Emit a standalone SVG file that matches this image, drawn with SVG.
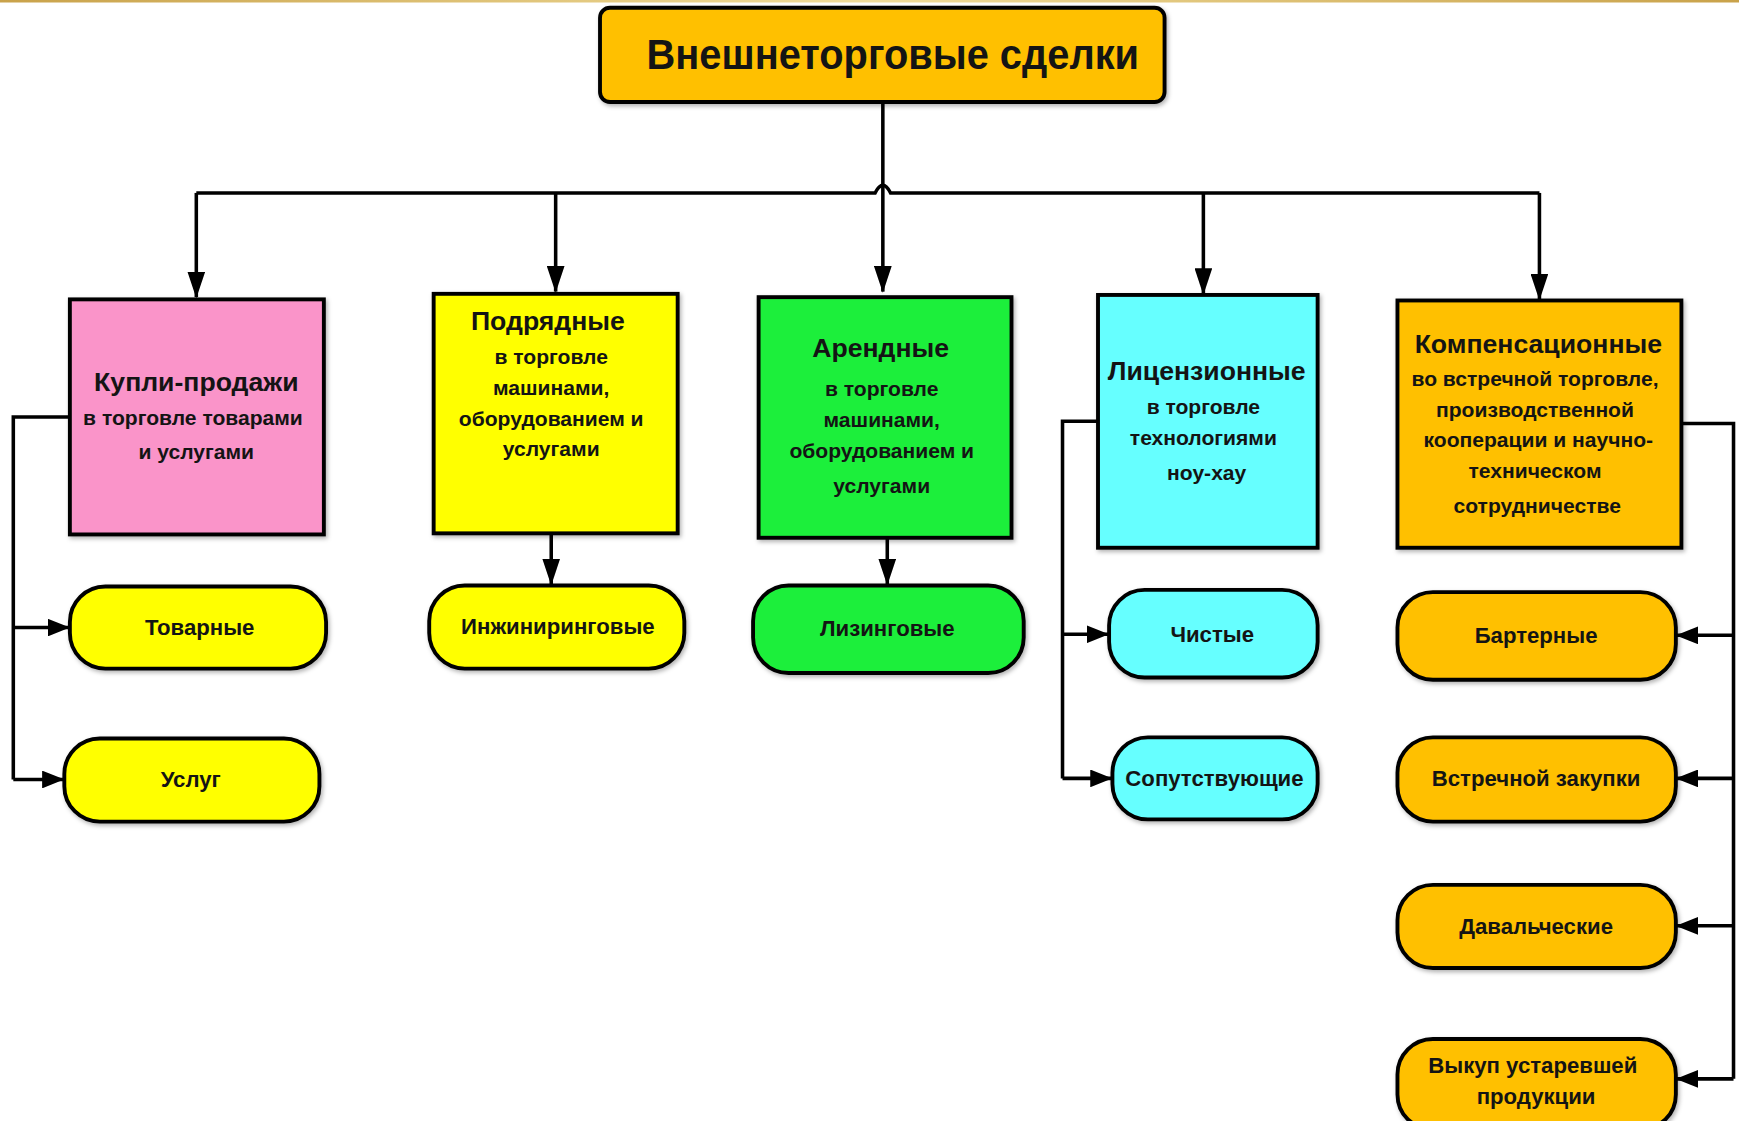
<svg xmlns="http://www.w3.org/2000/svg" width="1739" height="1121" viewBox="0 0 1739 1121">
<defs>
<style>
.box{stroke:#000;stroke-width:3.5;filter:url(#sh)}
.t{font-family:"Liberation Sans",Arial,sans-serif;font-weight:bold;fill:#141414;text-anchor:middle}
.h{font-size:24px}
.s{font-size:19px}
.p{font-size:20px}
.c{fill:none;stroke:#000;stroke-width:3.2}
.pink{fill:#FA94C9}.yel{fill:#FFFF00}.grn{fill:#1FEF3A}.cyn{fill:#66FFFF}.org{fill:#FFC000}
</style>
<filter id="sh" x="-10%" y="-10%" width="130%" height="130%">
<feDropShadow dx="1.5" dy="2" stdDeviation="1.8" flood-color="#000" flood-opacity="0.3"/>
</filter>
<marker id="ar" markerUnits="userSpaceOnUse" markerWidth="24" markerHeight="16" refX="23" refY="8" orient="auto">
<path d="M0,0 L24,8 L0,16 z" fill="#000"/>
</marker>
<marker id="as" markerUnits="userSpaceOnUse" markerWidth="20" markerHeight="16" refX="19" refY="8" orient="auto">
<path d="M0,0 L20,8 L0,16 z" fill="#000"/>
</marker>
<linearGradient id="gl" x1="0" x2="1" y1="0" y2="0">
<stop offset="0" stop-color="#C9A24A"/><stop offset="0.5" stop-color="#F0DC9A"/><stop offset="1" stop-color="#C9A24A"/>
</linearGradient>
</defs>
<rect x="0" y="0" width="1739" height="1121" fill="#fff"/>
<rect x="0" y="0" width="1739" height="2.5" fill="url(#gl)"/>
<g transform="scale(1.1091,1.1088)">
<g id="connectors">
<path class="c" d="M796,92 V263" marker-end="url(#ar)"/>
<path class="c" d="M177,174 H789 Q796,160 803,174 H1388"/>
<path class="c" d="M177,174 V268" marker-end="url(#ar)"/>
<path class="c" d="M501,174 V263" marker-end="url(#ar)"/>
<path class="c" d="M1085,174 V265" marker-end="url(#ar)"/>
<path class="c" d="M1388,174 V270" marker-end="url(#ar)"/>
<path class="c" d="M63,376 H12 V703"/>
<path class="c" d="M12,566 H62" marker-end="url(#as)"/>
<path class="c" d="M12,703 H57" marker-end="url(#as)"/>
<path class="c" d="M497,481 V527" marker-end="url(#ar)"/>
<path class="c" d="M800,485 V527" marker-end="url(#ar)"/>
<path class="c" d="M990,380 H958 V702"/>
<path class="c" d="M958,572 H999" marker-end="url(#as)"/>
<path class="c" d="M958,702 H1002" marker-end="url(#as)"/>
<path class="c" d="M1516,382 H1563 V973"/>
<path class="c" d="M1563,573 H1512" marker-end="url(#as)"/>
<path class="c" d="M1563,702 H1512" marker-end="url(#as)"/>
<path class="c" d="M1563,835 H1512" marker-end="url(#as)"/>
<path class="c" d="M1563,973 H1512" marker-end="url(#as)"/>
</g>
<g id="root">
<rect class="box org" x="541" y="7" width="509" height="85" rx="9"/>
<text class="t" x="805" y="62" font-size="38" textLength="444" lengthAdjust="spacingAndGlyphs">Внешнеторговые сделки</text>
</g>
<g id="n-kupli">
<rect class="box pink" x="63" y="270" width="229" height="212"/>
<text class="t h" x="177" y="353">Купли-продажи</text>
<text class="t s" x="174" y="383">в торговле товарами</text>
<text class="t s" x="177" y="414">и услугами</text>
</g>
<g id="n-podr">
<rect class="box yel" x="391" y="265" width="220" height="216"/>
<text class="t h" x="494" y="298">Подрядные</text>
<text class="t s" x="497" y="328">в торговле</text>
<text class="t s" x="497" y="356">машинами,</text>
<text class="t s" x="497" y="384">оборудованием и</text>
<text class="t s" x="497" y="411">услугами</text>
</g>
<g id="n-arend">
<rect class="box grn" x="684" y="268" width="228" height="217"/>
<text class="t h" x="794" y="322">Арендные</text>
<text class="t s" x="795" y="357">в торговле</text>
<text class="t s" x="795" y="385">машинами,</text>
<text class="t s" x="795" y="413">оборудованием и</text>
<text class="t s" x="795" y="445">услугами</text>
</g>
<g id="n-lic">
<rect class="box cyn" x="990" y="266" width="198" height="228"/>
<text class="t h" x="1088" y="343">Лицензионные</text>
<text class="t s" x="1085" y="373">в торговле</text>
<text class="t s" x="1085" y="401">технологиями</text>
<text class="t s" x="1088" y="433">ноу-хау</text>
</g>
<g id="n-komp">
<rect class="box org" x="1260" y="271" width="256" height="223"/>
<text class="t h" x="1387" y="318">Компенсационные</text>
<text class="t s" x="1384" y="348">во встречной торговле,</text>
<text class="t s" x="1384" y="376">производственной</text>
<text class="t s" x="1387" y="403">кооперации и научно-</text>
<text class="t s" x="1384" y="431">техническом</text>
<text class="t s" x="1386" y="463">сотрудничестве</text>
</g>
<g id="n-tovar">
<rect class="box yel" x="63" y="529" width="231" height="74" rx="32"/>
<text class="t p" x="180" y="573">Товарные</text>
</g>
<g id="n-uslug">
<rect class="box yel" x="58" y="666" width="230" height="75" rx="32"/>
<text class="t p" x="172" y="710">Услуг</text>
</g>
<g id="n-inzh">
<rect class="box yel" x="387" y="528" width="230" height="75" rx="32"/>
<text class="t p" x="503" y="572">Инжиниринговые</text>
</g>
<g id="n-lizing">
<rect class="box grn" x="679" y="528" width="244" height="79" rx="32"/>
<text class="t p" x="800" y="574">Лизинговые</text>
</g>
<g id="n-chist">
<rect class="box cyn" x="1000" y="532" width="188" height="79" rx="32"/>
<text class="t p" x="1093" y="579">Чистые</text>
</g>
<g id="n-soput">
<rect class="box cyn" x="1003" y="665" width="185" height="74" rx="32"/>
<text class="t p" x="1095" y="709">Сопутствующие</text>
</g>
<g id="n-barter">
<rect class="box org" x="1260" y="534" width="251" height="79" rx="32"/>
<text class="t p" x="1385" y="580">Бартерные</text>
</g>
<g id="n-vstr">
<rect class="box org" x="1260" y="665" width="251" height="76" rx="32"/>
<text class="t p" x="1385" y="709">Встречной закупки</text>
</g>
<g id="n-daval">
<rect class="box org" x="1260" y="798" width="251" height="75" rx="32"/>
<text class="t p" x="1385" y="842">Давальческие</text>
</g>
<g id="n-vykup">
<rect class="box org" x="1260" y="937" width="251" height="82" rx="32"/>
<text class="t p" x="1382" y="968">Выкуп устаревшей</text>
<text class="t p" x="1385" y="996">продукции</text>
</g>
</g>
</svg>
